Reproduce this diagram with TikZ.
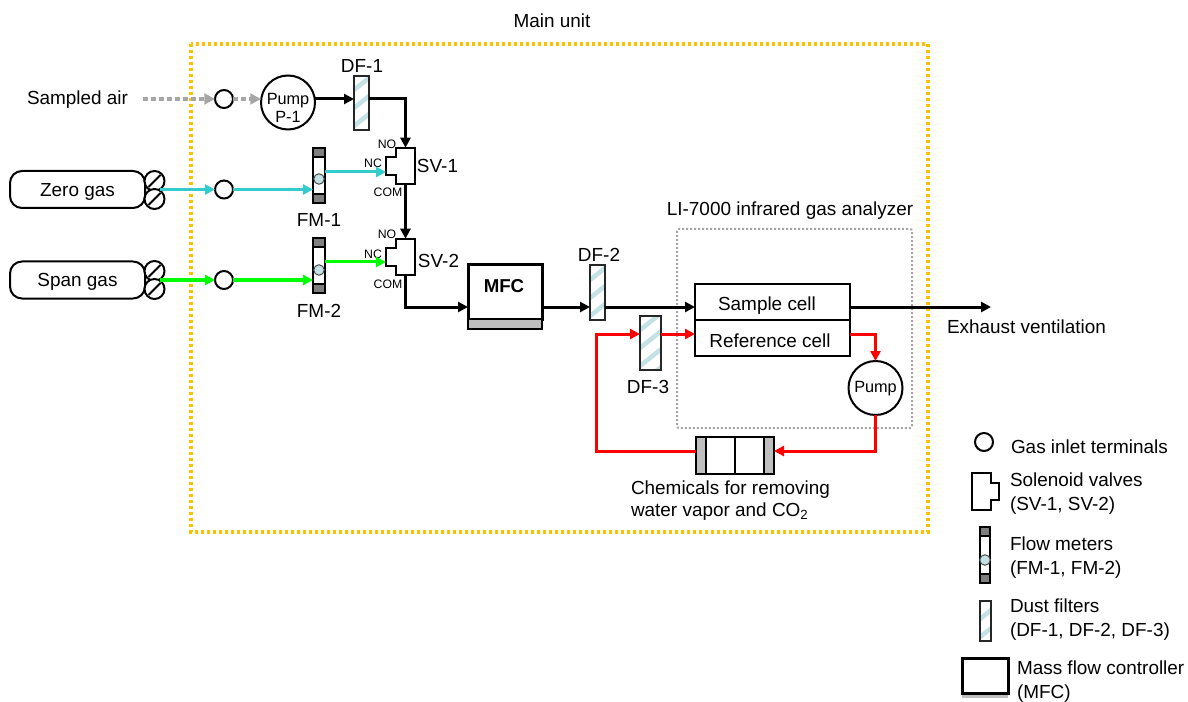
\documentclass[tikz,border=0pt]{standalone}
\usepackage{fontspec}
\setmainfont{Liberation Sans}
\usetikzlibrary{arrows.meta,calc}
\definecolor{yel}{HTML}{FFC000}
\definecolor{gr}{HTML}{A6A6A6}
\definecolor{dgr}{HTML}{7F7F7F}
\definecolor{lgr}{HTML}{BFBFBF}
\definecolor{cy}{HTML}{33CCCC}
\definecolor{gn}{HTML}{00FF00}
\definecolor{stp}{HTML}{C4E2E6}
\tikzset{
 sz/.style 2 args={minimum width=#1*0.75pt,minimum height=#2*0.75pt},
 base/.style={inner sep=0pt,outer sep=0pt},
 txt/.style={base,font=\fontsize{14.2}{18}\selectfont,align=left},
 tiny/.style={base,font=\fontsize{9.2}{11}\selectfont},
 boxthin/.style={base,draw=black,line width=1.5pt},
 term/.style={base,circle,draw=black,line width=1.5pt,fill=white,minimum size=18*0.75pt},
 pumpn/.style={base,circle,draw=black,line width=1.5pt,fill=white,minimum size=54*0.75pt},
 pumpt/.style={base,align=center,font=\fontsize{12.2}{13.5}\selectfont},
 gasbox/.style={base,draw=black,line width=1.5pt,rounded corners=9pt,sz={135}{37}},
 reg/.style={base,circle,draw=black,line width=1.5pt,fill=white,minimum size=20*0.75pt,
   path picture={\draw[line width=1.5pt] ($(path picture bounding box.south west)+(3pt,3pt)$) -- ($(path picture bounding box.north east)+(-3pt,-3pt)$);}},
 filt/.style={base,draw=black!85,line width=1.5pt,fill=white,
   path picture={\foreach \k in {-2,...,8}{\draw[stp,line width=3.4pt] ($(path picture bounding box.south west)+(-5,{-\k*18})$) -- ++(40,-32);}}},
 fmbar/.style={base,draw=black,line width=1.5pt,fill=white,
   path picture={\fill[dgr] (path picture bounding box.north west) rectangle ($(path picture bounding box.north east)+(0,9)$);
     \fill[dgr] (path picture bounding box.south west) rectangle ($(path picture bounding box.south east)+(0,-9)$);
     \draw[line width=1pt] ($(path picture bounding box.north west)+(0,9)$) -- ($(path picture bounding box.north east)+(0,9)$);
     \draw[line width=1pt] ($(path picture bounding box.south west)+(0,-9)$) -- ($(path picture bounding box.south east)+(0,-9)$);}},
 ball/.style={base,circle,draw=black!70,line width=.75pt,fill=stp,minimum size=10.5*0.75pt},
 tip/.style={-{Triangle[length=7.5pt,width=7.5pt]}},
 blk/.style={line width=2.25pt,black,tip},
 cyl/.style={line width=2.25pt,cy,tip},
 gnl/.style={line width=2.25pt,gn,tip},
 redl/.style={line width=2.25pt,red,tip},
 grl/.style={line width=3pt,gr,dash pattern=on 3.4pt off 2.6pt,-{Triangle[length=8pt,width=8pt]}},
 mainb/.style={line width=3pt,yel,dash pattern=on 2.25pt off 2.25pt},
 innerb/.style={line width=1.5pt,gr,dash pattern=on 1.5pt off 1.5pt},
}
\newcommand{\valve}[3]{%
 \node[base,sz={19}{36.5}] (#1) at (#2,#3) {};
 \draw[line width=1.5pt,line join=miter] (#1.north east) -- (#1.north west) -- ++(0,9) -- ++(-10,0) -- ++(0,18.5) -- ++(10,0) -- (#1.south west) -- (#1.south east) -- cycle;}
\begin{document}
\begin{tikzpicture}[x=0.75pt,y=-0.75pt]
\useasboundingbox (0,0) rectangle (1188,702);
% frames
\node[base,sz={737}{488}] (mainbox) at (559.5,288) {};
\draw[mainb] (mainbox.north west) rectangle (mainbox.south east);
\node[base,sz={235}{199}] (libox) at (794.5,328.5) {};
\draw[innerb,rounded corners=1.5pt] (libox.north west) rectangle (libox.south east);
\node[txt] (tmain) at (552,21) {Main unit};
\node[txt] (tli) at (790,211) {LI-7000 infrared gas analyzer};
% sources
\node[txt,anchor=west] (air) at (27,100) {Sampled air};
\coordinate (airend) at (143,99);
\node[gasbox] (zero) at (77.5,189.5) {};
\node[gasbox] (span) at (77.5,280) {};
\node[txt] (tzero) at (77.5,191.5) {Zero gas};
\node[txt] (tspan) at (77.5,282) {Span gas};
\node[reg] (z1) at (154.5,181) {};
\node[reg] (z2) at (154.5,199) {};
\node[reg] (s1) at (154.5,271) {};
\node[reg] (s2) at (154.5,289) {};
\coordinate (zout) at (160,189.5);
\coordinate (sout) at (160,280);
\node[term] (t1) at (224,99) {};
\node[term] (t2) at (224,189.5) {};
\node[term] (t3) at (224,280) {};
\node[pumpn] (p1) at (288,102.5) {};
\node[pumpt] (tp1) at (288,108) {Pump\\P-1};
% filters, meters
\node[filt,sz={15}{54}] (df1) at (361.5,103) {};
\node[filt,sz={15}{55}] (df2) at (597.5,292.5) {};
\node[filt,sz={21}{54}] (df3) at (650.5,343) {};
\node[fmbar,sz={12}{55}] (fm1) at (319,175.5) {};
\node[ball] (b1) at (319,179) {};
\node[fmbar,sz={12}{55}] (fm2) at (319,265.5) {};
\node[ball] (b2) at (319,270) {};
\node[txt] (ldf1) at (362,66) {DF-1};
\node[txt] (ldf2) at (599,255) {DF-2};
\node[txt] (ldf3) at (648,387) {DF-3};
\node[txt] (lfm1) at (319,220) {FM-1};
\node[txt] (lfm2) at (319,311) {FM-2};
% valves
\valve{sv1}{405.5}{166}
\valve{sv2}{405.5}{257}
\node[txt] (lsv1) at (437.5,166) {SV-1};
\node[txt] (lsv2) at (438.5,261) {SV-2};
\node[tiny] (no1) at (387,144) {NO};
\node[tiny] (nc1) at (373,163) {NC};
\node[tiny] (com1) at (388,192) {COM};
\node[tiny] (no2) at (387,234) {NO};
\node[tiny] (nc2) at (373,254) {NC};
\node[tiny] (com2) at (388,284) {COM};
\coordinate (v1nc) at (386,172);
\coordinate (v2nc) at (386,262);
% MFC
\node[base,draw=black,line width=2.25pt,sz={74}{54}] (mfc) at (505,292) {};
\node[base,font=\bfseries\fontsize{14}{16}\selectfont] (mfct) at (504,286) {MFC};
\node[base,draw=black,line width=1.5pt,fill=lgr,sz={74}{10}] (mfcb) at (505,324) {};
% cells
\node[boxthin,sz={155}{36}] (sc) at (772.5,302) {};
\node[boxthin,sz={155}{36}] (rc) at (772.5,338) {};
\node[txt] (tsc) at (767,306) {Sample cell};
\node[txt] (trc) at (770,341) {Reference cell};
\node[pumpn] (p2) at (875.5,388) {};
\node[pumpt] (tp2) at (875.5,389) {Pump};
\coordinate (exh) at (991,307);
\node[txt,anchor=west] (texh) at (947,327) {Exhaust ventilation};
% chemicals
\node[boxthin,sz={78}{37}] (chem) at (735,455.5) {};
\node[boxthin,fill=lgr,sz={10}{37}] (ch1) at (701,455.5) {};
\node[boxthin,fill=lgr,sz={10}{37}] (ch2) at (769,455.5) {};
\draw[line width=1.5pt] (chem.north) -- (chem.south);
\node[txt,anchor=north west,font=\fontsize{14.2}{16.5}\selectfont] (tchem) at (631,481) {Chemicals for removing\\water vapor and CO\textsubscript{2}};
% flows
\draw[grl] (airend) -- (t1.west);
\draw[grl] (t1.east) -- (p1.west |- t1);
\draw[blk] (p1.east |- t1) -- (df1.west |- t1);
\draw[blk] (df1.east |- t1) -| (sv1.north);
\draw[cyl] (zout) -- (t2.west);
\draw[gnl] (sout) -- (t3.west);
\draw[cyl] (t2.east) -- (fm1.west |- t2);
\draw[gnl] (t3.east) -- (fm2.west |- t3);
\draw[cyl] (fm1.east |- v1nc) -- (v1nc);
\draw[gnl] (fm2.east |- v2nc) -- (v2nc);
\draw[blk] (sv1.south) -- (sv2.north);
\draw[blk] (sv2.south) |- (mfc.west |- 0,307);
\draw[blk] (mfc.east |- 0,307) -- (df2.west |- 0,307);
\draw[blk] (df2.east |- 0,307) -- (sc.west |- 0,307);
\draw[blk] (sc.east |- 0,307) -- (exh);
\draw[redl] (df3.east |- 0,334) -- (rc.west |- 0,334);
\draw[redl] (rc.east |- 0,334) -| (p2.north);
\draw[redl] (p2.south) |- (ch2.east |- 0,451);
\draw[redl,line join=miter] (ch1.west |- 0,451) -- (596,451) -- (596,334) -- (df3.west |- 0,334);
% legend
\node[term] (lgt) at (984,442) {};
\node[txt,anchor=west] (lgt1) at (1011,447) {Gas inlet terminals};
\node[base,sz={19}{37}] (lgv) at (981.5,491.5) {};
\draw[line width=1.5pt] (lgv.north east) -- (lgv.north west) -- (lgv.south west) -- (lgv.south east) -- ++(0,-10) -- ++(8,0) -- ++(0,-17) -- ++(-8,0) -- cycle;
\node[txt,anchor=west] (lgv1) at (1010,494) {Solenoid valves\\(SV-1, SV-2)};
\node[fmbar,sz={10}{56}] (lgf) at (985,555) {};
\node[ball] (lgb) at (985,560) {};
\node[txt,anchor=west] (lgf1) at (1010,557.5) {Flow meters\\(FM-1, FM-2)};
\node[filt,sz={11}{40}] (lgd) at (985.5,621) {};
\node[txt,anchor=west] (lgd1) at (1010,619.5) {Dust filters\\(DF-1, DF-2, DF-3)};
\node[base,fill=lgr,sz={46}{5}] (lgm2) at (985,695.5) {};
\node[base,draw=black,line width=2.25pt,sz={46}{35}] (lgm) at (985,675.5) {};
\node[txt,anchor=west] (lgm1) at (1017,682) {Mass flow controller\\(MFC)};
\end{tikzpicture}
\end{document}
